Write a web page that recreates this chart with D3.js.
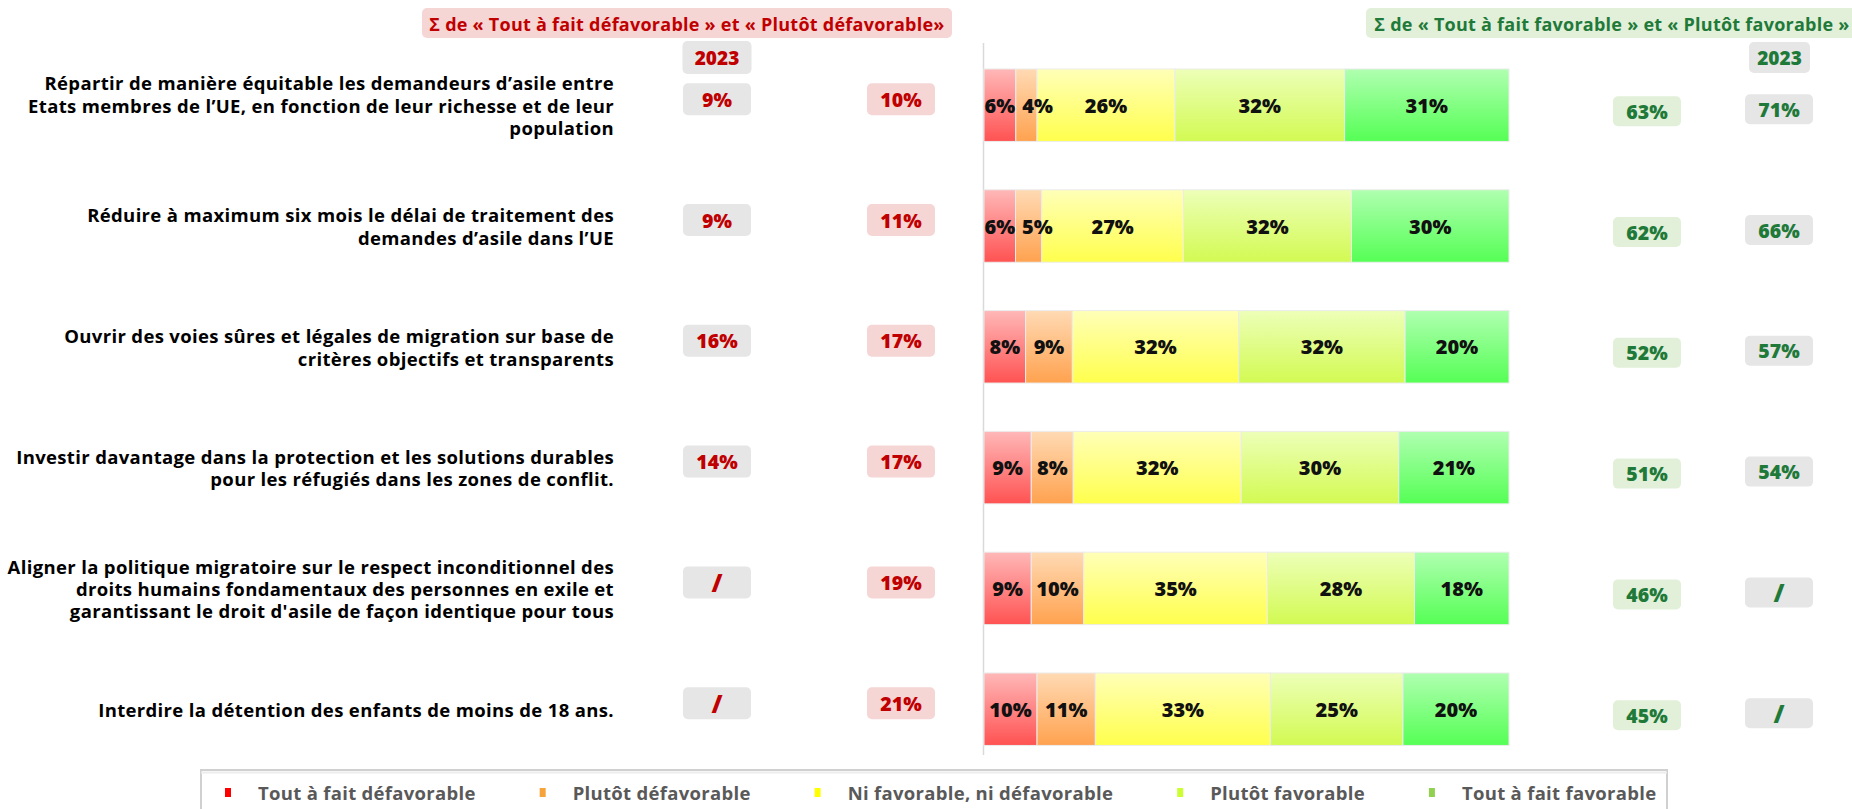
<!DOCTYPE html>
<html>
<head>
<meta charset="utf-8">
<script src="https://cdn.jsdelivr.net/npm/d3@7"></script>
<style>
  body { margin: 0; background: #fff; }
  svg { display: block; font-family: "Open Sans", "DejaVu Sans", sans-serif; }
</style>
</head>
<body>
<svg id="chart" width="1852" height="809"></svg>
<script>
// Statements (each entry is the list of lines of the wrapped label)
const categories = [
  ["Répartir de manière équitable les demandeurs d’asile entre",
   "Etats membres de l’UE, en fonction de leur richesse et de leur",
   "population"],
  ["Réduire à maximum six mois le délai de traitement des",
   "demandes d’asile dans l’UE"],
  ["Ouvrir des voies sûres et légales de migration sur base de",
   "critères objectifs et transparents"],
  ["Investir davantage dans la protection et les solutions durables",
   "pour les réfugiés dans les zones de conflit."],
  ["Aligner la politique migratoire sur le respect inconditionnel des",
   "droits humains fondamentaux des personnes en exile et",
   "garantissant le droit d'asile de façon identique pour tous"],
  ["Interdire la détention des enfants de moins de 18 ans."]
];

const seriesNames = ["Tout à fait défavorable", "Plutôt défavorable",
  "Ni favorable, ni défavorable", "Plutôt favorable", "Tout à fait favorable"];

// Answer shares (%)
const toutDefavorable = [6, 6, 8, 9, 9, 10];
const plutotDefavorable = [4, 5, 9, 8, 10, 11];
const niFavNiDefav = [26, 27, 32, 32, 35, 33];
const plutotFavorable = [32, 32, 32, 30, 28, 25];
const toutFavorable = [31, 30, 20, 21, 18, 20];

// Side columns
const defavorable2023 = ["9%", "9%", "16%", "14%", "/", "/"];
const defavorableSum = [10, 11, 17, 17, 19, 21];
const favorableSum = [63, 62, 52, 51, 46, 45];
const favorable2023 = ["71%", "66%", "57%", "54%", "/", "/"];

const headerYear = "2023";
const titleDefav = "Σ de « Tout à fait défavorable » et « Plutôt défavorable»";
const titleFav = "Σ de « Tout à fait favorable » et « Plutôt favorable »";

// ---------------------------------------------------------------
const seriesValues = [toutDefavorable, plutotDefavorable, niFavNiDefav, plutotFavorable, toutFavorable];
const rows = categories.map((c, i) => {
  const r = { idx: i };
  seriesNames.forEach((s, k) => r[s] = seriesValues[k][i]);
  return r;
});

const legendColors = ["#ff0000", "#f5a33a", "#ffff00", "#ccff33", "#92d050"];
const gradTop = ["#ffb8b8", "#ffdab4", "#ffffb8", "#edffb8", "#b0ffb0"];
const gradBottom = ["#ff5252", "#ffa24f", "#ffff4d", "#d2fa52", "#55ff55"];

const svg = d3.select("#chart");
const defs = svg.append("defs");
seriesNames.forEach((s, k) => {
  const g = defs.append("linearGradient").attr("id", "grad" + k)
    .attr("x1", 0).attr("y1", 0).attr("x2", 0).attr("y2", 1);
  g.append("stop").attr("offset", "0%").attr("stop-color", gradTop[k]);
  g.append("stop").attr("offset", "100%").attr("stop-color", gradBottom[k]);
});

const x = d3.scaleLinear().domain([0, 1]).range([984, 1509]);
const y = d3.scaleBand().domain(d3.range(categories.length))
  .range([44.8, 769.6]).paddingInner(0.4).paddingOuter(0.2);

const stack = d3.stack().keys(seriesNames).offset(d3.stackOffsetExpand);
const stacked = stack(rows);

// Vertical baseline
svg.append("line")
  .attr("x1", x(0) - 0.5).attr("x2", x(0) - 0.5)
  .attr("y1", 43).attr("y2", 755)
  .attr("stroke", "#d9d9d9").attr("stroke-width", 1.5);

// Stacked bars
const layer = svg.append("g").selectAll("g").data(stacked).join("g")
  .attr("fill", (d, k) => `url(#grad${k})`);
layer.selectAll("rect").data(d => d).join("rect")
  .attr("x", d => x(d[0]))
  .attr("y", (d, i) => y(i))
  .attr("width", d => x(d[1]) - x(d[0]))
  .attr("height", y.bandwidth())
  .attr("stroke", "#ececec").attr("stroke-width", 1);

// Segment labels, centred in their segment; narrow neighbours are pushed right
const segLabels = svg.append("g");
categories.forEach((c, i) => {
  let prevRight = -Infinity;
  stacked.forEach((ser, k) => {
    const seg = ser[i];
    const t = segLabels.append("text")
      .attr("y", y(i) + y.bandwidth() / 2)
      .attr("text-anchor", "middle")
      .attr("dominant-baseline", "central")
      .attr("font-size", 20).attr("font-weight", 800).attr("fill", "#111")
      .text(seriesValues[k][i] + "%");
    const w = t.node().getComputedTextLength();
    let cx = (x(seg[0]) + x(seg[1])) / 2;
    if (cx - w / 2 < prevRight + 7) cx = prevRight + 7 + w / 2;
    t.attr("x", cx);
    prevRight = cx + w / 2;
  });
});

// Statement labels
const lineH = 22.4;
const labelG = svg.append("g");
categories.forEach((lines, i) => {
  const cy = y(i) + y.bandwidth() / 2;
  const t = labelG.append("text")
    .attr("text-anchor", "end")
    .attr("font-size", 18.5).attr("letter-spacing", 0.35)
    .attr("font-weight", 700).attr("fill", "#000");
  lines.forEach((ln, j) => {
    t.append("tspan")
      .attr("x", 614)
      .attr("y", cy + (j - (lines.length - 1) / 2) * lineH)
      .attr("dominant-baseline", "central")
      .text(ln);
  });
});

// Rounded value box helper
function valueBox(g, cx, cy, w, h, bg, color, txt, size) {
  g.append("rect").attr("x", cx - w / 2).attr("y", cy - h / 2)
    .attr("width", w).attr("height", h).attr("rx", 5).attr("fill", bg);
  g.append("text").attr("x", cx).attr("y", cy)
    .attr("text-anchor", "middle").attr("dominant-baseline", "central")
    .attr("font-size", size).attr("font-weight", 800).attr("fill", color)
    .text(txt);
}

const red = "#c00000", green = "#1f7a3a";
const grey = "#e6e6e6", pink = "#f6d5d5", lightGreen = "#e2f0d9";
const boxes = svg.append("g");

// Header boxes
valueBox(boxes, 717, 57.5, 69, 33, grey, red, headerYear, 19);
valueBox(boxes, 1779.5, 57.5, 61, 31, grey, green, headerYear, 19);

categories.forEach((c, i) => {
  const cy = y(i) + y.bandwidth() / 2;
  const isSlash1 = defavorable2023[i] === "/";
  valueBox(boxes, 717, cy - 6, 68, 32, grey, red, defavorable2023[i], isSlash1 ? 25 : 19.5);
  valueBox(boxes, 901, cy - 6, 68, 32, pink, red, defavorableSum[i] + "%", 19.5);
  valueBox(boxes, 1647, cy + 6, 68, 30, lightGreen, green, favorableSum[i] + "%", 19.5);
  const isSlash2 = favorable2023[i] === "/";
  valueBox(boxes, 1779, cy + 4, 68, 30, grey, green, favorable2023[i], isSlash2 ? 25 : 19.5);
});

// Title boxes
function titleBox(x0, x1, bg, color, txt) {
  svg.append("rect").attr("x", x0).attr("y", 8).attr("width", x1 - x0).attr("height", 30)
    .attr("rx", 5).attr("fill", bg);
  svg.append("text").attr("x", (x0 + x1) / 2).attr("y", 23.5)
    .attr("text-anchor", "middle").attr("dominant-baseline", "central")
    .attr("font-size", 18).attr("letter-spacing", 0.25)
    .attr("font-weight", 700).attr("fill", color)
    .text(txt);
}
titleBox(422, 952, "#f6d5d5", red, titleDefav);
titleBox(1366, 1858, "#e2f0d9", green, titleFav);

// Legend
const legend = svg.append("g");
legend.append("rect").attr("x", 201).attr("y", 770).attr("width", 1466).attr("height", 60)
  .attr("fill", "#fff").attr("stroke", "#d0d0d0").attr("stroke-width", 2);
legend.append("line").attr("x1", 201).attr("x2", 1667).attr("y1", 772.5).attr("y2", 772.5)
  .attr("stroke", "#ececec").attr("stroke-width", 2);
let lx = 225;
seriesNames.forEach((s, k) => {
  legend.append("rect").attr("x", lx).attr("y", 788).attr("width", 6).attr("height", 9)
    .attr("fill", legendColors[k]);
  const t = legend.append("text").attr("x", lx + 33).attr("y", 792.5)
    .attr("dominant-baseline", "central")
    .attr("font-size", 18.5).attr("letter-spacing", 0.3)
    .attr("font-weight", 700).attr("fill", "#595959")
    .text(s);
  lx = lx + 33 + t.node().getComputedTextLength() + 64;
});
</script>
</body>
</html>
